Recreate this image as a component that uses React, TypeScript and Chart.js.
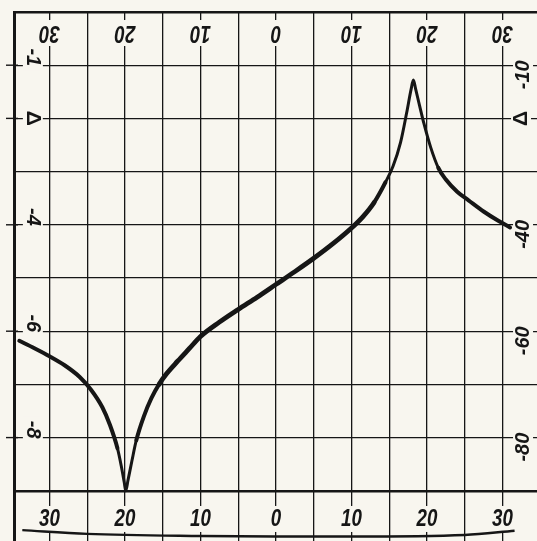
import React, { useEffect, useRef } from "react";
import { Chart, registerables } from "chart.js";

Chart.register(...registerables);

// ---- data ----
const curveX = [
  -34.0, -32.0, -30.0, -28.0, -26.0, -24.5, -23.0, -22.0, -21.0, -20.5, -20.1, -19.9,
  -19.6, -19.1, -18.5, -17.5, -16.5, -15.5, -14.5, -13.0, -11.5, -10.0, -7.5, -5.0,
  -2.5, 0.0, 2.5, 5.0, 7.5, 10.0, 11.5, 13.0, 14.5, 15.5, 16.5, 17.3, 17.9, 18.2,
  18.5, 19.0, 19.6, 20.5, 21.5, 22.5, 24.0, 25.5, 27.5, 29.5, 31.0,
];
const curveY = [
  -61.8, -63.2, -64.7, -66.4, -68.6, -71.0, -74.3, -77.6, -82.0, -85.3, -88.4, -90.0,
  -88.0, -84.5, -80.5, -76.0, -72.6, -70.0, -68.0, -65.6, -63.3, -61.0, -58.3, -55.9,
  -53.6, -51.2, -48.8, -46.3, -43.6, -40.6, -38.5, -35.8, -32.0, -29.0, -24.5, -19.0,
  -14.5, -12.8, -14.5, -17.5, -21.0, -25.5, -29.3, -31.5, -33.8, -35.4, -37.5, -39.3,
  -40.5,
];
// decorative base rule under the lower scale
const baseX = [-33.6, -25.0, -10.0, 0.0, 10.0, 25.0, 31.6];
const baseY = [-97.4, -98.1, -98.5, -98.6, -98.6, -98.3, -97.5];

const xGridValues = [-30, -25, -20, -15, -10, -5, 0, 5, 10, 15, 20, 25, 30];
const yGridValues = [0, -10, -20, -30, -40, -50, -60, -70, -80, -90];
const xLabelValues = [-30, -20, -10, 0, 10, 20, 30];
const xLabels = ["30", "20", "10", "0", "10", "20", "30"];
const yLabelValues = [-10, -20, -40, -60, -80];
const rightLabels = ["-10", "Δ", "-40", "-60", "-80"];
const leftLabels = ["-1", "Δ", "-4", "-6", "-8"];

const X_MIN = -34.7;
const X_MAX = 34.57;
const Y_MIN = -99.44;
const Y_MAX = 0;

const PAPER = "#f8f6ef";
const INK = "#161616";

function drawLabel(
  ctx: CanvasRenderingContext2D,
  text: string,
  x: number,
  y: number,
  rot: number,
  font: string,
  align: CanvasTextAlign,
  sx: number,
  maskH: number
) {
  ctx.save();
  ctx.translate(x, y);
  ctx.rotate(rot);
  ctx.scale(sx, 1);
  ctx.font = font;
  const w = ctx.measureText(text).width;
  let x0 = -w / 2;
  if (align === "left") x0 = 0;
  if (align === "right") x0 = -w;
  ctx.fillStyle = PAPER;
  ctx.fillRect(x0 - 4, -maskH / 2, w + 8, maskH);
  ctx.fillStyle = INK;
  ctx.textAlign = align;
  ctx.textBaseline = "middle";
  ctx.fillText(text, 0, 0);
  ctx.restore();
}

const paperPlugin = {
  id: "paper",
  beforeDraw(chart: any) {
    const ctx = chart.ctx;
    ctx.save();
    ctx.fillStyle = PAPER;
    ctx.fillRect(0, 0, chart.width, chart.height);
    ctx.restore();
  },
};

const labelPlugin = {
  id: "scaleLabels",
  beforeDatasetsDraw(chart: any) {
    const ctx: CanvasRenderingContext2D = chart.ctx;
    const xs = chart.scales.x;
    const ys = chart.scales.y;
    const bigFont = "italic bold 24px 'Liberation Sans', Arial, sans-serif";
    const sideFont = "italic bold 20px 'Liberation Sans', Arial, sans-serif";
    const triFont = "bold 21px 'Liberation Sans', Arial, sans-serif";
    const topY = ys.getPixelForValue(-3.95);
    const botY = ys.getPixelForValue(-95.3);
    xLabelValues.forEach((v, i) => {
      const px = xs.getPixelForValue(v);
      drawLabel(ctx, xLabels[i], px, botY, 0, bigFont, "center", 0.78, 26);
      drawLabel(ctx, xLabels[i], px, topY, Math.PI, bigFont, "center", 0.78, 26);
    });
    const rightX = xs.getPixelForValue(32.72);
    const leftX = xs.getPixelForValue(-32.2);
    yLabelValues.forEach((v, i) => {
      const py = ys.getPixelForValue(v);
      const r = rightLabels[i];
      if (r === "Δ") {
        drawLabel(ctx, r, rightX - 2, py, -Math.PI / 2, triFont, "center", 1, 20);
      } else {
        drawLabel(ctx, r, rightX, py + 24, -Math.PI / 2, sideFont, "left", 1, 20);
      }
      const l = leftLabels[i];
      if (l === "Δ") {
        drawLabel(ctx, l, leftX, py, Math.PI / 2, triFont, "center", 1, 20);
      } else {
        drawLabel(ctx, l, leftX, py + 1, Math.PI / 2, sideFont, "right", 1, 20);
      }
      // small stub through the left border
      ctx.save();
      ctx.strokeStyle = INK;
      ctx.lineWidth = 1.4;
      ctx.beginPath();
      ctx.moveTo(chart.chartArea.left - 8, py);
      ctx.lineTo(chart.chartArea.left + 4, py);
      ctx.stroke();
      ctx.restore();
    });
  },
};

export default function App() {
  const ref = useRef<HTMLCanvasElement | null>(null);

  useEffect(() => {
    if (!ref.current) return;
    const chart = new Chart(ref.current, {
      type: "line",
      data: {
        datasets: [
          {
            data: curveX.map((x, i) => ({ x, y: curveY[i] })),
            borderColor: INK,
            borderWidth: 4.4,
            borderCapStyle: "round",
            borderJoinStyle: "round",
            pointRadius: 0,
            cubicInterpolationMode: "monotone",
            fill: false,
            segment: {
              borderWidth: (c: any) => {
                const x = c.p0.parsed.x;
                if ((x > -22 && x < -18.5) || (x > 14 && x < 21.5)) return 3;
                if (x > -16 && x < 12) return 4.8;
                return 4;
              },
            },
          },
          {
            data: baseX.map((x, i) => ({ x, y: baseY[i] })),
            borderColor: INK,
            borderWidth: 2.4,
            pointRadius: 0,
            cubicInterpolationMode: "monotone",
            fill: false,
          },
        ],
      },
      options: {
        responsive: false,
        animation: false,
        devicePixelRatio: 1,
        events: [],
        layout: { padding: { left: 14, top: 12, right: 0, bottom: 0 } },
        plugins: { legend: { display: false }, tooltip: { enabled: false } },
        scales: {
          x: {
            type: "linear",
            min: X_MIN,
            max: X_MAX,
            afterBuildTicks: (s: any) => {
              s.ticks = xGridValues.map((v) => ({ value: v }));
            },
            ticks: { display: false },
            border: { display: false },
            grid: { color: INK, lineWidth: 1.3, drawTicks: false },
          },
          y: {
            type: "linear",
            min: Y_MIN,
            max: Y_MAX,
            afterBuildTicks: (s: any) => {
              s.ticks = yGridValues.map((v) => ({ value: v }));
            },
            ticks: { display: false },
            border: { display: true, width: 3, color: INK },
            grid: {
              color: INK,
              drawTicks: false,
              lineWidth: (c: any) =>
                c.tick && (c.tick.value === 0 || c.tick.value === -90) ? 2.4 : 1.3,
            },
          },
        },
      },
      plugins: [paperPlugin, labelPlugin],
    });
    return () => chart.destroy();
  }, []);

  return (
    <div style={{ position: "absolute", left: 0, top: 0, width: 537, height: 541 }}>
      <canvas ref={ref} width={537} height={541} style={{ display: "block" }} />
    </div>
  );
}
